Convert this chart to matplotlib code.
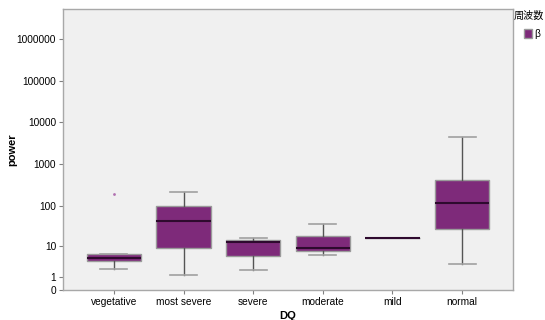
import numpy as np
import matplotlib.pyplot as plt
from matplotlib.patches import Patch

plt.rcParams['font.family'] = ['Liberation Sans', 'Noto Sans CJK JP', 'DejaVu Sans']

categories = ["vegetative", "most severe", "severe", "moderate", "mild", "normal"]
q1 = [3.9, 9.2, 5.5, 7.3, 16.7, 28]
med = [4.9, 44, 13, 9.0, 16.7, 116]
q3 = [6.2, 98, 14.9, 18.8, 16.7, 412]
whislo = [2.2, 1.3, 2.0, 6.0, 16.7, 3.2]
whishi = [6.2, 221, 16.7, 37, 16.7, 4600]
fliers = [[190], [], [], [], [], []]

yticks = [0, 1, 10, 100, 1000, 10000, 100000, 1000000]

stats = []
for i, c in enumerate(categories):
    stats.append(dict(label=c, q1=q1[i], med=med[i], q3=q3[i],
                      whislo=whislo[i], whishi=whishi[i], fliers=fliers[i]))

fig = plt.figure(figsize=(5.45, 3.2), dpi=100)
ax = fig.add_axes([63/545, 1 - 290/320, 450/545, 281/320])
ax.set_facecolor('#f0f0f0')

# log10(y + 1) axis so that 0 fits at the bottom
ax.set_yscale('function', functions=(lambda v: np.log10(np.clip(v, -0.999, None) + 1),
                                      lambda t: 10**t - 1))

box_col = '#7e2a7a'
ax.bxp(stats, positions=range(len(categories)), widths=0.78, patch_artist=True,
       boxprops=dict(facecolor=box_col, edgecolor='#9a9a9a', linewidth=1.0),
       medianprops=dict(color='#2e0a2e', linewidth=1.5),
       whiskerprops=dict(color='#555555', linewidth=1.0),
       capprops=dict(color='#a0a0a0', linewidth=1.2),
       flierprops=dict(marker='o', markersize=2, markerfacecolor='#b070b0',
                       markeredgecolor='none'),
       capwidths=0.39)

ax.set_xlim(-0.73, len(categories) - 0.27)
ax.set_ylim(0, 5.1e6)
ax.set_yticks(yticks)
ax.set_yticklabels([str(t) for t in yticks])
ax.minorticks_off()
ax.tick_params(axis='both', labelsize=7.3, length=3, color='#808080', width=0.8, pad=2)

for s in ax.spines.values():
    s.set_color('#a8a8a8')
    s.set_linewidth(1.0)

ax.set_xlabel('DQ', fontsize=8, fontweight='bold', labelpad=3)
fig.text(12/545, 1 - 150/320, 'power', fontsize=8, fontweight='bold',
         rotation=90, ha='center', va='center')

fig.text(529/545, 1 - 16/320, '周波数', fontsize=7.3, ha='center', va='center')
fig.legend(handles=[Patch(facecolor=box_col, edgecolor='#9a9a9a', label='β')],
           loc='upper left', bbox_to_anchor=(517/545, 1 - 22/320),
           frameon=False, fontsize=7.3, handlelength=0.75, handleheight=0.9,
           handletextpad=0.3, borderpad=0.2)

fig.savefig('out.png', dpi=100)
